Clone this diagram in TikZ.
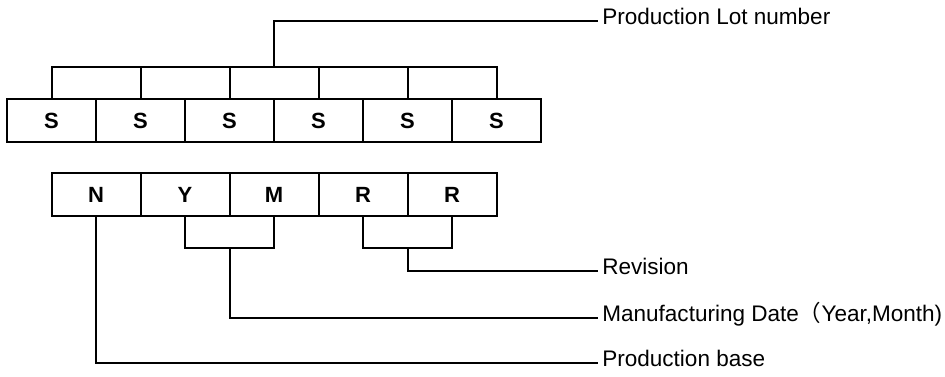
\documentclass[tikz,border=0pt]{standalone}
\usepackage{fontspec}
\setmainfont{Liberation Sans}
\newfontfamily\cjk{Noto Sans CJK SC}
\begin{document}
\begin{tikzpicture}[x=0.75pt, y=-0.75pt, line width=1.5pt,
  cell/.style={draw, rectangle, minimum width=66.75pt, minimum height=32.25pt,
    inner sep=0pt, outer sep=0pt, font=\fontsize{16.5}{20}\selectfont\bfseries},
  tag/.style={anchor=mid west, inner sep=0pt, inner xsep=2.5pt,
    font=\fontsize{16.9}{20}\selectfont}]
\useasboundingbox (0,0) rectangle (945,376);

% Serial number boxes
\foreach \i/\x in {1/51.5, 2/140.5, 3/229.5, 4/318.5, 5/407.5, 6/496.5} {
  \node[cell] (s\i) at (\x,120.5) {S};
}

% Code boxes
\foreach \nm/\x/\code in {n/96/N, y/185/Y, m/274/M, r1/363/R, r2/452/R} {
  \node[cell] (\nm) at (\x,194.5) {\code};
}

% Labels
\node[tag] (lot)  at (598,21)  {Production Lot number};
\node[tag] (rev)  at (598,271) {Revision};
\node[tag] (date) at (598,318) {Manufacturing Date{\cjk （}Year,Month)};
\node[tag] (base) at (598,363) {Production base};

% Lot bracket
\draw (s1.north) -- ++(0,-32.5) coordinate (lotbar) -| (s6.north);
\foreach \i in {2,...,5}
  \draw (s\i.north) -- (s\i.north |- lotbar);
\draw (lotbar -| s3.north east) |- (lot.mid west);

% Date, revision and base brackets
\draw (y.south) -- ++(0,32) coordinate (ymbar) -| (m.south);
\draw (ymbar -| y.south east) |- (date.mid west);
\draw (r1.south) -- ++(0,32) coordinate (rrbar) -| (r2.south);
\draw (rrbar -| r1.south east) |- (rev.mid west);
\draw (n.south) |- (base.mid west);
\end{tikzpicture}
\end{document}
